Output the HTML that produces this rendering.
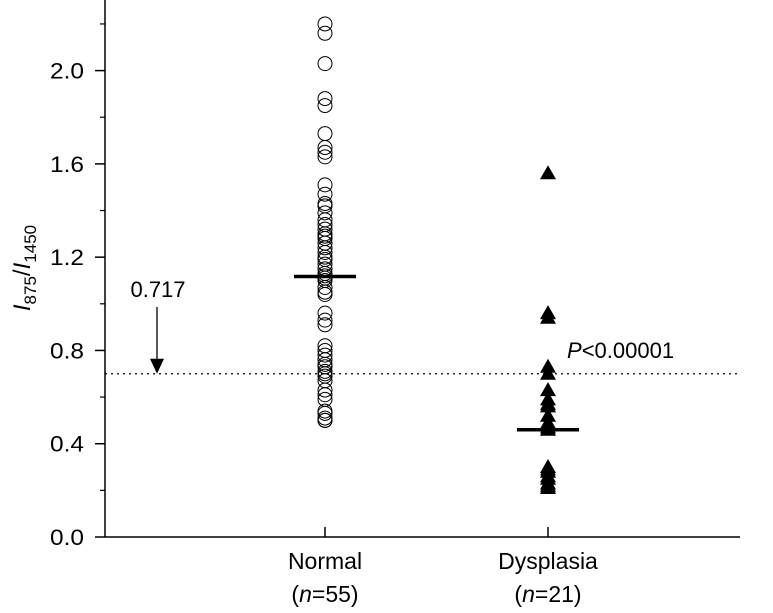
<!DOCTYPE html>
<html><head><meta charset="utf-8"><style>
html,body{margin:0;padding:0;background:#fff;}
svg{display:block;font-family:"Liberation Sans",sans-serif;}
</style></head><body>
<svg id="chart" width="773" height="613">
<g id="axes"></g>
<g id="marks"></g>
</svg>
<script>
const categories = ["Normal", "Dysplasia"];
const categoryN = ["55", "21"];
const normalValues = [2.20,2.16,2.03,1.88,1.85,1.73,1.67,1.65,1.63,1.51,1.47,1.43,1.42,1.39,1.36,1.34,1.32,1.30,1.29,1.28,1.26,1.24,1.22,1.20,1.19,1.17,1.15,1.13,1.11,1.10,1.07,1.05,1.04,0.96,0.93,0.91,0.82,0.80,0.78,0.76,0.74,0.73,0.71,0.70,0.69,0.67,0.63,0.61,0.59,0.54,0.53,0.51,0.50,0.50,1.12];
const dysplasiaValues = [1.56,0.96,0.94,0.73,0.70,0.63,0.59,0.57,0.56,0.52,0.49,0.47,0.46,0.30,0.29,0.28,0.26,0.25,0.23,0.22,0.21];
const means = [1.117, 0.46];
const threshold = 0.7;
const thresholdLabel = "0.717";
const yTicks = [0, 0.4, 0.8, 1.2, 1.6, 2.0];
const yTickLabels = ["0.0","0.4","0.8","1.2","1.6","2.0"];
const yMinor = [0.2,0.6,1.0,1.4,1.8,2.2];

const NS="http://www.w3.org/2000/svg";
const x0=105, x1=740, y0=537, pxPerUnit=233.2;
const catX=[325,548];
function yScale(v){return y0 - v*pxPerUnit;}
function xScale(i){return catX[i];}
function mk(tag,attrs,parent){const e=document.createElementNS(NS,tag);for(const k in attrs)e.setAttribute(k,attrs[k]);parent.appendChild(e);return e;}
const axes=document.getElementById('axes'), marks=document.getElementById('marks');

let e=mk('line',{x1:x0,y1:0,x2:x0,y2:y0,stroke:'#000','stroke-width':1.5},axes);


e=mk('line',{x1:x0,y1:y0,x2:x1,y2:y0,stroke:'#000','stroke-width':1.5},axes);


yTicks.forEach((v,i)=>{
  const y=yScale(v);
  let t=mk('line',{x1:x0-10,y1:y,x2:x0,y2:y,stroke:'#000','stroke-width':1.5},axes);
  
  
  let l=mk('text',{x:x0-21,y:y+8,'text-anchor':'end','font-size':22,textLength:34,lengthAdjust:'spacingAndGlyphs'},axes);
  l.textContent=yTickLabels[i];
  
  
});
yMinor.forEach(v=>{
  const y=yScale(v);
  let t=mk('line',{x1:x0-5,y1:y,x2:x0,y2:y,stroke:'#000','stroke-width':1.2},axes);
  
  
});
categories.forEach((c,i)=>{
  const x=xScale(i);
  let t=mk('line',{x1:x,y1:y0-10,x2:x,y2:y0,stroke:'#000','stroke-width':1.5},axes);
  
  
  let l=mk('text',{x:x,y:569,'text-anchor':'middle','font-size':23},axes);
  l.textContent=c;
  
  
  let n=mk('text',{x:x,y:602,'text-anchor':'middle','font-size':23},axes);
  n.innerHTML='(<tspan font-style="italic">n</tspan>=' + categoryN[i] + ')';
  
  
});
let yl=mk('text',{transform:'translate(30,268) rotate(-90)','text-anchor':'middle','font-size':24},axes);
yl.innerHTML='<tspan font-style="italic">I</tspan><tspan font-size="17" dy="6">875</tspan><tspan dy="-6">/</tspan><tspan font-style="italic">I</tspan><tspan font-size="17" dy="6">1450</tspan>';



const ty=yScale(threshold);
e=mk('line',{x1:x0,y1:ty,x2:x1,y2:ty,stroke:'#000','stroke-width':1.3,'stroke-dasharray':'2,4'},marks);


e=mk('text',{x:158,y:297,'text-anchor':'middle','font-size':22},marks);
e.textContent=thresholdLabel;


e=mk('line',{x1:157,y1:307,x2:157,y2:ty-12,stroke:'#000','stroke-width':1.3},marks);


e=mk('polygon',{points:`150,${ty-15} 164,${ty-15} 157,${ty}`,fill:'#000'},marks);


e=mk('text',{x:567,y:358,'font-size':22},marks);
e.innerHTML='<tspan font-style="italic">P</tspan>&lt;0.00001';



normalValues.forEach(v=>{
  let c=mk('circle',{cx:xScale(0),cy:yScale(v),r:7,fill:'none',stroke:'#000','stroke-width':1},marks);
  
  
});
dysplasiaValues.forEach(v=>{
  const x=xScale(1), y=yScale(v);
  let p=mk('polygon',{points:`${x-8},${y+6} ${x+8},${y+6} ${x},${y-8}`,fill:'#000'},marks);
  
  
});
means.forEach((m,i)=>{
  const x=xScale(i), y=yScale(m);
  let l=mk('line',{x1:x-31,y1:y,x2:x+31,y2:y,stroke:'#000','stroke-width':3.5},marks);
  
  
});
</script>
</body></html>
